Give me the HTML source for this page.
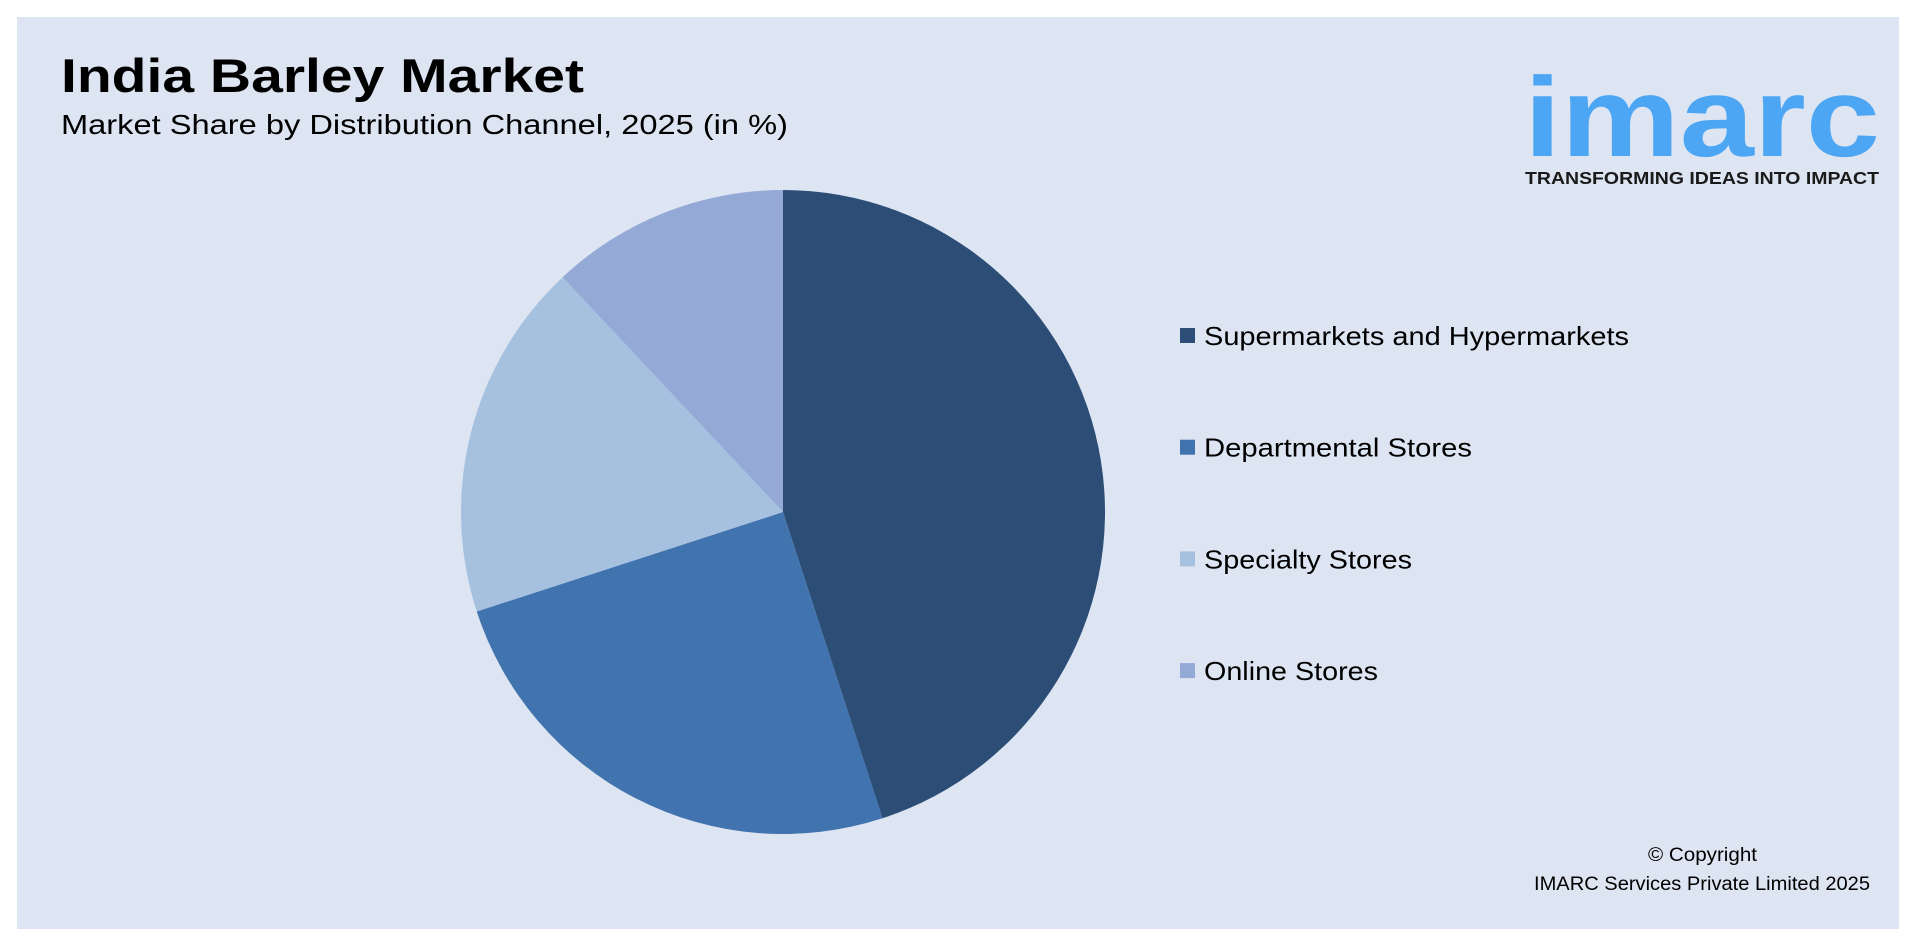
<!DOCTYPE html>
<html><head><meta charset="utf-8"><style>
body{margin:0;width:1916px;height:950px;background:#fff;overflow:hidden;font-family:"Liberation Sans",sans-serif}
#panel{position:absolute;left:17px;top:17px;width:1882px;height:912px;background:#dde4f2}
svg text{font-family:"Liberation Sans",sans-serif}
</style></head><body>
<div id="panel"></div>
<svg id="chart" width="1916" height="950" style="position:absolute;left:0;top:0">
<text x="61" y="92" font-size="47" font-weight="bold" textLength="523" lengthAdjust="spacingAndGlyphs">India Barley Market</text>
<text x="61" y="134" font-size="28" textLength="727" lengthAdjust="spacingAndGlyphs">Market Share by Distribution Channel, 2025 (in %)</text>
<text x="1524" y="156" font-size="113" font-weight="bold" fill="#4da6f3" textLength="356" lengthAdjust="spacingAndGlyphs">imarc</text>
<text x="1525" y="184" font-size="17.5" font-weight="bold" fill="#1a1a1a" textLength="354" lengthAdjust="spacingAndGlyphs">TRANSFORMING IDEAS INTO IMPACT</text>
<text x="1648" y="861" font-size="19" textLength="109" lengthAdjust="spacingAndGlyphs">© Copyright</text>
<text x="1534" y="890" font-size="19" textLength="336" lengthAdjust="spacingAndGlyphs">IMARC Services Private Limited 2025</text>
</svg>
<script>
const categories=["Supermarkets and Hypermarkets","Departmental Stores","Specialty Stores","Online Stores"];
const values=[45,25,18,12];
const colors=["#2c4d75","#4173ae","#a6c1e0","#95a9d7"];
const labelWidths=[425,268,208,174];
const svg=document.getElementById('chart');
const NS="http://www.w3.org/2000/svg";
const cx=783,cy=512,r=322;
const total=values.reduce((a,b)=>a+b,0);
let a0=0;
values.forEach((v,i)=>{
  const a1=a0+v/total*2*Math.PI;
  const x0=cx+r*Math.sin(a0),y0=cy-r*Math.cos(a0);
  const x1=cx+r*Math.sin(a1),y1=cy-r*Math.cos(a1);
  const p=document.createElementNS(NS,'path');
  p.setAttribute('d',`M${cx},${cy}L${x0},${y0}A${r},${r} 0 ${a1-a0>Math.PI?1:0} 1 ${x1},${y1}Z`);
  p.setAttribute('fill',colors[i]);
  
  
  svg.appendChild(p);
  a0=a1;
  const ly=336+i*111.7;
  const sq=document.createElementNS(NS,'rect');
  sq.setAttribute('x',1180);sq.setAttribute('y',ly-8);sq.setAttribute('width',15);sq.setAttribute('height',15);
  sq.setAttribute('fill',colors[i]);
  
  
  svg.appendChild(sq);
  const t=document.createElementNS(NS,'text');
  t.setAttribute('x',1204);t.setAttribute('y',ly+9);
  t.setAttribute('font-size','26');
  t.setAttribute('textLength',labelWidths[i]);
  t.setAttribute('lengthAdjust','spacingAndGlyphs');
  t.textContent=categories[i];
  
  
  svg.appendChild(t);
});
</script>
</body></html>
